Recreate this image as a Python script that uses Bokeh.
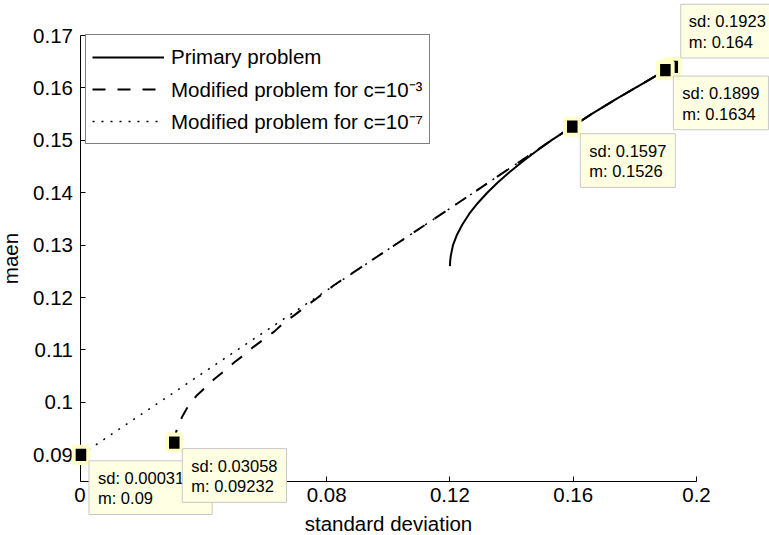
from bokeh.plotting import figure
from bokeh.models import Label, FixedTicker, Range1d, Legend, LegendItem
from bokeh.embed import file_html
from bokeh.resources import INLINE

FONT = "Liberation Sans"

# ---- data -------------------------------------------------------------
x_ticks = [0.0, 0.04, 0.08, 0.12, 0.16, 0.2]
x_tick_labels = ["0", "0.04", "0.08", "0.12", "0.16", "0.2"]
y_ticks = [0.09, 0.10, 0.11, 0.12, 0.13, 0.14, 0.15, 0.16, 0.17]
y_tick_labels = ["0.09", "0.1", "0.11", "0.12", "0.13", "0.14", "0.15", "0.16", "0.17"]
x_limits = (0.0, 0.2)
y_limits = (0.085, 0.17)

series_names = ["Primary problem",
                "Modified problem for c=10\u207b\u00b3",
                "Modified problem for c=10\u207b\u2077"]

primary_sd = [0.1200, 0.1201, 0.1203, 0.1210, 0.1223, 0.1241, 0.1263, 0.1290, 0.1321,
              0.1356, 0.1395, 0.1437, 0.1482, 0.1529, 0.1597, 0.1659, 0.1743, 0.1831,
              0.1899, 0.1923]
primary_m = [0.1260, 0.1270, 0.1280, 0.1300, 0.1320, 0.1340, 0.1360, 0.1380, 0.1400,
             0.1420, 0.1440, 0.1460, 0.1480, 0.1500, 0.1526, 0.1550, 0.1580, 0.1610,
             0.1634, 0.1640]

mod3_sd = [0.03058, 0.0310, 0.0318, 0.0331, 0.0350, 0.0377, 0.0410, 0.0437, 0.0470,
           0.0500, 0.0535, 0.0563, 0.0600, 0.0630, 0.0665, 0.0697, 0.0730, 0.0760,
           0.0825, 0.1000, 0.1200, 0.1400, 0.1482, 0.1529, 0.1597, 0.1659, 0.1743,
           0.1831, 0.1899]
mod3_m = [0.09232, 0.0940, 0.0955, 0.0972, 0.0992, 0.1012, 0.1030, 0.1045, 0.1061,
          0.1076, 0.1092, 0.1106, 0.1122, 0.1135, 0.1154, 0.1167, 0.1182, 0.1195,
          0.1224, 0.1292, 0.1370, 0.1449, 0.1481, 0.1500, 0.1526, 0.1550, 0.1580,
          0.1610, 0.1634]

mod7_sd = [0.00031, 0.0500, 0.1000, 0.1200, 0.1400, 0.1482, 0.1529, 0.1597, 0.1659,
           0.1743, 0.1831, 0.1899, 0.1923]
mod7_m = [0.0900, 0.1096, 0.1292, 0.1370, 0.1449, 0.1481, 0.1500, 0.1526, 0.1550,
          0.1580, 0.1610, 0.1634, 0.1640]

# data tips
tip_sd = [0.1923, 0.1899, 0.1597, 0.00031, 0.03058]
tip_m = [0.164, 0.1634, 0.1526, 0.09, 0.09232]

# ---- layout (screen pixels) ---------------------------------------------
W, H = 769, 535
AX_LEFT, AX_RIGHT, AX_TOP, AX_BOTTOM = 79.5, 696.0, 35.0, 480.5

tip_dx = [8, 8, 8, 8, 8]
tip_dy = [9, -6, -7, -6, -6]
tip_anchor = ["bottom_left", "top_left", "top_left", "top_left", "top_left"]
tip_pad_left = [8, 9, 9, 9, 9]
tip_pad_right = [9, 9, 9, 28, 9]

# the frame fills the whole canvas; axes sit at fixed data locations so that
# the data tips may extend past the axes without being clipped
xpp = (x_limits[1] - x_limits[0]) / (AX_RIGHT - AX_LEFT)
ypp = (y_limits[1] - y_limits[0]) / (AX_BOTTOM - AX_TOP)
x_range = Range1d(x_limits[0] - AX_LEFT * xpp, x_limits[1] + (W - AX_RIGHT) * xpp)
y_range = Range1d(y_limits[0] - (H - AX_BOTTOM) * ypp, y_limits[1] + AX_TOP * ypp)

p = figure(width=W, height=H, title=None,
           min_border_left=0, min_border_right=0,
           min_border_top=0, min_border_bottom=0,
           x_range=x_range, y_range=y_range,
           output_backend="svg", toolbar_location=None,
           background_fill_color="white", border_fill_color="white")
p.outline_line_color = None
p.grid.visible = False

for ax in (p.xaxis[0], p.yaxis[0]):
    ax.axis_line_color = "black"
    ax.axis_line_width = 1
    ax.major_tick_line_color = "black"
    ax.major_tick_in = 5
    ax.major_tick_out = 0
    ax.minor_tick_line_color = None
    ax.major_label_text_font = FONT
    ax.major_label_text_font_size = "20.5px"
    ax.major_label_text_color = "black"
    ax.axis_label_text_font = FONT
    ax.axis_label_text_font_size = "20.5px"
    ax.axis_label_text_font_style = "normal"
    ax.axis_label_text_color = "black"

p.xaxis.fixed_location = y_limits[0]
p.xaxis.bounds = x_limits
p.yaxis.fixed_location = x_limits[0]
p.yaxis.bounds = y_limits
p.xaxis.ticker = FixedTicker(ticks=x_ticks)
p.xaxis.major_label_overrides = dict(zip(x_ticks, x_tick_labels))
p.yaxis.ticker = FixedTicker(ticks=y_ticks)
p.yaxis.major_label_overrides = dict(zip(y_ticks, y_tick_labels))
p.xaxis.axis_label = "standard deviation"
p.yaxis.axis_label = "maen"
p.xaxis.major_label_standoff = 7
p.xaxis.axis_label_standoff = 6
p.yaxis.major_label_standoff = 7
p.yaxis.axis_label_standoff = 9

r7 = p.line(mod7_sd, mod7_m, line_color="black", line_width=1.5, line_dash="2 7")
r3 = p.line(mod3_sd, mod3_m, line_color="black", line_width=2, line_dash="13 12")
r1 = p.line(primary_sd, primary_m, line_color="black", line_width=2)

legend = Legend(items=[LegendItem(label=series_names[0], renderers=[r1]),
                       LegendItem(label=series_names[1], renderers=[r3]),
                       LegendItem(label=series_names[2], renderers=[r7])],
                location=(85, 391), orientation="vertical",
                padding=6, spacing=0, margin=0,
                label_height=32, glyph_height=32, glyph_width=72,
                label_standoff=7,
                label_text_font=FONT, label_text_font_size="20.5px",
                label_text_color="black",
                border_line_color="black", border_line_width=1.5,
                background_fill_color="white", background_fill_alpha=1.0)
p.add_layout(legend)

for i in range(len(tip_sd)):
    marker = Label(x=tip_sd[i], y=tip_m[i], text=" ", anchor="center",
                   text_font_size="2px", text_align="center", text_baseline="middle",
                   background_fill_color="black",
                   border_line_color="#FFFFC8", border_line_width=4, padding=7)
    p.add_layout(marker)
    box = Label(x=tip_sd[i], y=tip_m[i], x_offset=tip_dx[i], y_offset=tip_dy[i],
                text="sd: %g\nm: %g" % (tip_sd[i], tip_m[i]),
                anchor=tip_anchor[i],
                text_font=FONT, text_font_size="16.5px", text_color="black",
                text_line_height=1.15,
                background_fill_color="#FFFFE4",
                border_line_color="#C8C8C8", border_line_width=1,
                padding=dict(left=tip_pad_left[i], right=tip_pad_right[i], top=8, bottom=7))
    p.add_layout(box)

open("out.html", "w").write(file_html(p, INLINE))
